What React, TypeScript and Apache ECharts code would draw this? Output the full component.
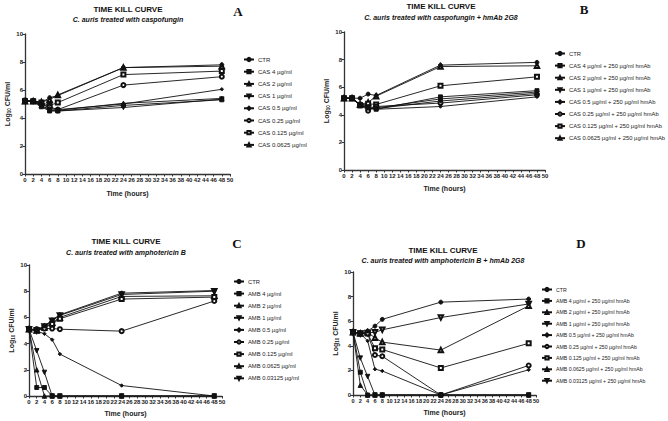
import React, { useEffect, useRef } from "react";
import * as echarts from "echarts";

const hours = [0, 2, 4, 6, 8, 24, 48];

const namesA = ["CTR", "CAS 4 µg/ml", "CAS 2 µg/ml", "CAS 1 µg/ml", "CAS 0.5 µg/ml", "CAS 0.25 µg/ml", "CAS 0.125 µg/ml", "CAS 0.0625 µg/ml"];
const namesB = ["CTR", "CAS 4 µg/ml + 250 µg/ml hmAb", "CAS 2 µg/ml + 250 µg/ml hmAb", "CAS 1 µg/ml + 250 µg/ml hmAb", "CAS 0.5 µg/ml + 250 µg/ml hmAb", "CAS 0.25 µg/ml + 250 µg/ml hmAb", "CAS 0.125 µg/ml + 250 µg/ml hmAb", "CAS 0.0625 µg/ml + 250 µg/ml hmAb"];
const namesC = ["CTR", "AMB 4 µg/ml", "AMB 2 µg/ml", "AMB 1 µg/ml", "AMB 0.5 µg/ml", "AMB 0.25 µg/ml", "AMB 0.125 µg/ml", "AMB 0.0625 µg/ml", "AMB 0.03125 µg/ml"];
const namesD = ["CTR", "AMB 4 µg/ml + 250 µg/ml hmAb", "AMB 2 µg/ml + 250 µg/ml hmAb", "AMB 1 µg/ml + 250 µg/ml hmAb", "AMB 0.5 µg/ml + 250 µg/ml hmAb", "AMB 0.25 µg/ml + 250 µg/ml hmAb", "AMB 0.125 µg/ml + 250 µg/ml hmAb", "AMB 0.0625 µg/ml + 250 µg/ml hmAb", "AMB 0.03125 µg/ml + 250 µg/ml hmAb"];

const valuesA = [
  [5.2, 5.2, 5.1, 5.45, 5.6, 7.6, 7.8],
  [5.25, 5.2, 4.8, 4.5, 4.5, 4.9, 5.3],
  [5.2, 5.2, 4.9, 4.6, 4.55, 5.05, 5.4],
  [5.25, 5.15, 4.85, 4.55, 4.5, 4.75, 5.35],
  [5.2, 5.2, 5.0, 4.7, 4.6, 5.0, 6.05],
  [5.2, 5.2, 5.0, 4.8, 4.6, 6.35, 6.95],
  [5.2, 5.2, 5.1, 4.9, 5.1, 7.1, 7.35],
  [5.2, 5.2, 5.15, 5.3, 5.65, 7.6, 7.7],
];
const valuesB = [
  [5.2, 5.2, 5.2, 5.5, 5.4, 7.6, 7.8],
  [5.2, 5.2, 4.65, 4.5, 4.4, 5.3, 5.75],
  [5.2, 5.2, 4.7, 4.6, 4.5, 5.15, 5.65],
  [5.2, 5.2, 4.7, 4.55, 4.45, 5.0, 5.55],
  [5.2, 5.2, 4.75, 4.45, 4.4, 4.6, 5.3],
  [5.2, 5.2, 4.75, 4.3, 4.6, 4.85, 5.45],
  [5.2, 5.2, 4.7, 4.8, 4.75, 6.1, 6.75],
  [5.2, 5.2, 4.75, 4.9, 5.35, 7.5, 7.55],
];
const valuesC = [
  [5.1, 5.05, 5.35, 5.8, 6.2, 7.85, 8.05],
  [5.1, 0.65, 0.65, 0, 0, 0, 0],
  [5.1, 2.0, 0, 0, 0, 0, 0],
  [5.1, 3.45, 1.8, 0, 0, 0, 0],
  [5.1, 4.95, 4.75, 4.3, 3.2, 0.8, 0],
  [5.1, 5.1, 5.15, 5.15, 5.1, 4.95, 7.25],
  [5.1, 5.0, 5.2, 5.5, 5.9, 7.4, 7.55],
  [5.1, 5.0, 5.25, 5.6, 6.0, 7.6, 7.65],
  [5.1, 5.0, 5.3, 5.75, 6.15, 7.75, 8.0],
];
const valuesD = [
  [5.1, 5.0, 5.2, 5.6, 6.15, 7.55, 7.8],
  [5.1, 1.85, 0, 0, 0, 0, 0],
  [5.1, 0.8, 0, 0, 0, 0, 0],
  [5.1, 3.0, 1.5, 0, 0, 0, 0],
  [5.1, 5.0, 4.4, 2.1, 1.95, 0, 2.05],
  [5.1, 5.0, 5.0, 3.25, 3.15, 0, 2.4],
  [5.1, 5.0, 5.0, 3.8, 3.7, 2.2, 4.2],
  [5.1, 5.0, 5.1, 4.65, 4.3, 3.65, 7.25],
  [5.1, 5.0, 5.05, 5.1, 5.3, 6.3, 7.4],
];

const titles = ["C. auris treated with caspofungin", "C. auris treated with caspofungin + hmAb 2G8", "C. auris treated with amphotericin B", "C. auris treated with amphotericin B + hmAb 2G8"];
const letters = ["A", "B", "C", "D"];

const SYMBOLS = [
  { s: "circle", r: 0, size: 4 },
  { s: "rect", r: 0, size: 4 },
  { s: "triangle", r: 0, size: 4.5 },
  { s: "triangle", r: 180, size: 4.5 },
  { s: "diamond", r: 0, size: 3.5 },
  { s: "emptyCircle", r: 0, size: 4 },
  { s: "emptyRect", r: 0, size: 4 },
  { s: "emptyTriangle", r: 0, size: 4.5 },
  { s: "emptyTriangle", r: 180, size: 4.5 },
];

const FONT = "Liberation Sans, Arial, sans-serif";
const AX = "#333";

export default function App() {
  const ref = useRef<HTMLDivElement>(null);
  useEffect(() => {
    document.body.style.margin = "0";
    const chart = echarts.init(ref.current!, null, { renderer: "svg" });

    const grids = [
      { left: 25, top: 34, width: 205, height: 140 },
      { left: 344, top: 32, width: 201, height: 138 },
      { left: 29, top: 265, width: 193, height: 131 },
      { left: 353, top: 272, width: 183, height: 123 },
    ];
    const yNameGap = [11.5, 10.5, 13, 10.5];
    const xNameGap = [15.5, 14.5, 13.5, 13.5];
    const tickFont = [6, 6, 6, 5.6];

    const panels = [
      { names: namesA, values: valuesA },
      { names: namesB, values: valuesB },
      { names: namesC, values: valuesC },
      { names: namesD, values: valuesD },
    ];

    const xAxis = grids.map((g, i) => ({
      type: "value",
      gridIndex: i,
      min: 0,
      max: 50,
      interval: 2,
      name: "Time (hours)",
      nameLocation: "middle",
      nameGap: xNameGap[i],
      nameTextStyle: { fontFamily: FONT, fontWeight: "bold", fontSize: 7, color: "#222" },
      axisLine: { show: true, lineStyle: { color: AX, width: 1.3 } },
      axisTick: { show: true, length: 2.5, lineStyle: { color: AX, width: 1 } },
      axisLabel: { fontFamily: FONT, fontSize: tickFont[i], color: "#222", fontWeight: "bold", margin: 3, interval: 0, hideOverlap: false },
      splitLine: { show: false },
    }));
    const yAxis = grids.map((g, i) => ({
      type: "value",
      gridIndex: i,
      min: 0,
      max: 10,
      interval: 2,
      name: "{a|Log}{b|10}{a| CFU/ml}",
      nameLocation: "middle",
      nameRotate: 90,
      nameGap: yNameGap[i],
      nameTextStyle: {
        rich: {
          a: { fontFamily: FONT, fontWeight: "bold", fontSize: 7, color: "#222", verticalAlign: "bottom" },
          b: { fontFamily: FONT, fontWeight: "bold", fontSize: 4.5, color: "#222", verticalAlign: "bottom", padding: [0, 0, -1, 0] },
        },
      },
      axisLine: { show: true, lineStyle: { color: AX, width: 1.3 } },
      axisTick: { show: true, length: 2.5, lineStyle: { color: AX, width: 1 } },
      axisLabel: { fontFamily: FONT, fontSize: 6, color: "#222", fontWeight: "bold", margin: 2 },
      splitLine: { show: false },
    }));

    const series: any[] = [];
    panels.forEach((p, pi) => {
      p.names.forEach((n, si) => {
        const sym = SYMBOLS[si];
        series.push({
          type: "line",
          name: n,
          xAxisIndex: pi,
          yAxisIndex: pi,
          data: hours.map((h, k) => [h, p.values[si][k]]),
          symbol: sym.s,
          symbolRotate: sym.r,
          symbolSize: sym.size,
          showSymbol: true,
          lineStyle: { color: "#111", width: 0.9 },
          itemStyle: { color: "#111", borderColor: "#111", borderWidth: 0.9 },
          z: 10 - si,
        });
      });
    });

    const legendPos = [
      { left: 243, top: 56, gap: 5.2, fs: 6 },
      { left: 554, top: 50, gap: 5.1, fs: 5.8 },
      { left: 233, top: 278, gap: 5.1, fs: 5.8 },
      { left: 541, top: 286, gap: 4.4, fs: 5.2 },
    ];
    const legend = panels.map((p, i) => ({
      orient: "vertical",
      left: legendPos[i].left,
      top: legendPos[i].top,
      padding: 0,
      itemWidth: 10,
      itemHeight: 4,
      itemGap: legendPos[i].gap,
      selectedMode: false,
      textStyle: { fontFamily: FONT, fontSize: legendPos[i].fs, lineHeight: 7, color: "#222", padding: [0, 0, 0, -1] },
      data: p.names,
    }));

    const titlePos = [
      { x: 128, y1: 9, y2: 19.5, lx: 238, ly: 11 },
      { x: 441, y1: 6, y2: 17, lx: 584, ly: 9 },
      { x: 126, y1: 241, y2: 252, lx: 237, ly: 243 },
      { x: 443, y1: 250, y2: 260, lx: 581, ly: 243 },
    ];
    const graphic: any[] = [];
    titlePos.forEach((t, i) => {
      graphic.push({
        type: "text",
        x: t.x,
        y: t.y1,
        style: { text: "TIME KILL CURVE", font: `bold 8px ${FONT}`, fill: "#111", textAlign: "center", textVerticalAlign: "middle", align: "center", verticalAlign: "middle" },
      });
      graphic.push({
        type: "text",
        x: t.x,
        y: t.y2,
        style: { text: titles[i], font: `italic bold 7px ${FONT}`, fill: "#111", textAlign: "center", textVerticalAlign: "middle", align: "center", verticalAlign: "middle" },
      });
      graphic.push({
        type: "text",
        x: t.lx,
        y: t.ly,
        style: { text: letters[i], font: `bold 13px Liberation Serif, Times New Roman, serif`, fill: "#111", textAlign: "center", textVerticalAlign: "middle", align: "center", verticalAlign: "middle" },
      });
    });

    chart.setOption({
      animation: false,
      backgroundColor: "#fff",
      grid: grids,
      xAxis,
      yAxis,
      legend,
      series,
      graphic,
    });
    return () => chart.dispose();
  }, []);
  return <div ref={ref} style={{ width: 668, height: 421 }} />;
}
